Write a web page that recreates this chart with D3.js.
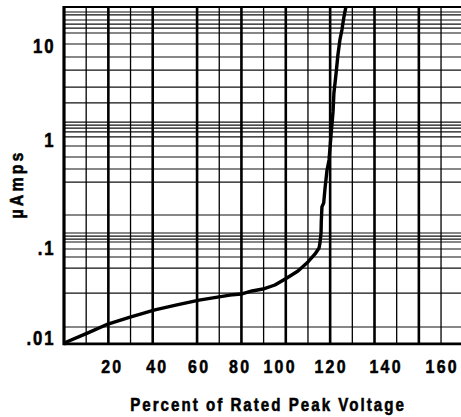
<!DOCTYPE html>
<html><head><meta charset="utf-8">
<script src="https://cdn.jsdelivr.net/npm/d3@7"></script>
<style>
html,body{margin:0;padding:0;background:#fff;}
svg{display:block;}
text{font-family:"Liberation Sans", Arial, Helvetica, sans-serif;font-weight:bold;fill:#000;stroke:#000;stroke-width:0.55px;}
</style></head><body>
<svg id="chart" width="461" height="417"></svg>
<script>
// ---- data ----
const pct = [0, 10.8, 19.8, 29.8, 41.0, 50.9, 60.9, 74.8, 79.8, 84.8, 89.7, 95.1, 100.5, 105.5, 110.0, 113.2, 115.0, 115.4, 115.9, 116.0, 116.3, 117.1, 117.7, 118.6, 119.5, 120.4, 121.3, 121.7, 122.6, 123.5, 124.4, 125.3, 126.2, 127.1];
const microAmps = [0.0088, 0.0114, 0.0143, 0.0171, 0.0205, 0.0233, 0.0264, 0.0300, 0.0308, 0.0333, 0.0350, 0.0388, 0.0464, 0.0555, 0.0699, 0.0858, 0.100, 0.111, 0.138, 0.174, 0.240, 0.262, 0.359, 0.527, 0.653, 1.13, 1.99, 3.16, 4.91, 8.02, 11.6, 14.8, 20.3, 26.0];
const xGridValues = [10, 20, 30, 40, 60, 70, 80, 90, 100, 110, 120, 130, 140, 150, 160, 170];
const yGridValues = [23.0, 21.4, 18.9, 17.1, 15.5, 13.75, 10.5, 7.64, 5.55, 3.66, 2.48, 1.55, 1.44, 1.34, 1.22, 1.08, 0.88, 0.696, 0.539, 0.408, 0.202, 0.1377, 0.129, 0.121, 0.1136, 0.0975, 0.0794, 0.0599, 0.0316, 0.01325];
const xTickLabels = ["20", "40", "60", "80", "100", "120", "140", "160"];
const xTickLabelAt = [21.2, 41.5, 60.4, 78.9, 96.9, 119.9, 144.7, 170.0];
const yTickValues = [10, 1, 0.1, 0.01];
const yTickLabels = ["10", "1", ".1", ".01"];
const xDomain = [0, 179];
const yDomain = [0.0086, 26];
const yTitle = "\u00b5Amps";
const xTitle = "Percent of Rated Peak Voltage";

// ---- scales ----
const x = d3.scaleLinear().domain(xDomain).range([64, 461]);
const y = d3.scaleLog().domain(yTickValues.slice().reverse()).range([338, 248, 140, 46]);

const svg = d3.select("#chart");
const plotLeft = x(xDomain[0]), plotRight = x(xDomain[1]);
const plotTop = y(yDomain[1]), plotBottom = y(yDomain[0]);

svg.append("defs").append("clipPath").attr("id", "plot")
  .append("rect").attr("x", plotLeft).attr("y", plotTop).attr("width", plotRight - plotLeft).attr("height", plotBottom - plotTop);

// horizontal grid
svg.append("g").selectAll("line").data(yGridValues).join("line")
  .attr("x1", plotLeft).attr("x2", plotRight)
  .attr("y1", d => y(d)).attr("y2", d => y(d))
  .attr("stroke", "#111").attr("stroke-width", 1.2);

// vertical grid
svg.append("g").selectAll("line").data(xGridValues).join("line")
  .attr("x1", d => x(d)).attr("x2", d => x(d))
  .attr("y1", plotTop).attr("y2", plotBottom)
  .attr("stroke", "#000").attr("stroke-width", d => d % 20 === 0 ? 2.6 : 1.3);

// frame
const frame = svg.append("g").attr("stroke", "#000");
frame.append("line").attr("x1", plotLeft).attr("x2", plotLeft).attr("y1", plotTop - 1).attr("y2", plotBottom + 1.4).attr("stroke-width", 3.2);
frame.append("line").attr("x1", plotLeft).attr("x2", plotRight).attr("y1", plotTop).attr("y2", plotTop).attr("stroke-width", 2.2);
frame.append("line").attr("x1", plotLeft).attr("x2", plotRight).attr("y1", plotBottom).attr("y2", plotBottom).attr("stroke-width", 2.8);

// curve
const pts = pct.map((p, i) => [p, microAmps[i]]);
svg.append("path").datum(pts)
  .attr("clip-path", "url(#plot)")
  .attr("fill", "none").attr("stroke", "#000").attr("stroke-width", 3.4)
  .attr("stroke-linejoin", "round").attr("stroke-linecap", "round")
  .attr("d", d3.line().x(d => x(d[0])).y(d => y(d[1])));

// x tick labels
svg.append("g").selectAll("text").data(xTickLabels).join("text")
  .attr("transform", (d, i) => `translate(${x(xTickLabelAt[i]) + 1.2},372.5) scale(0.86,1)`)
  .attr("text-anchor", "middle").attr("font-size", 18.5).attr("letter-spacing", 2.6)
  .text(d => d);

// y tick labels
svg.append("g").selectAll("text").data(yTickLabels).join("text")
  .attr("transform", (d, i) => `translate(55.5,${y(yTickValues[i])}) scale(0.86,1)`)
  .attr("text-anchor", "end").attr("dy", "0.36em").attr("font-size", 19.5).attr("letter-spacing", 2.2)
  .text(d => d);

// titles
svg.append("text")
  .attr("transform", `translate(268,410.5) scale(0.84,1)`)
  .attr("text-anchor", "middle").attr("font-size", 18).attr("letter-spacing", 2.4)
  .text(xTitle);
svg.append("text")
  .attr("transform", `translate(22.5,184) rotate(-90) scale(0.86,1)`)
  .attr("text-anchor", "middle").attr("font-size", 18.5).attr("letter-spacing", 3.6)
  .text(yTitle);
</script>
</body></html>
